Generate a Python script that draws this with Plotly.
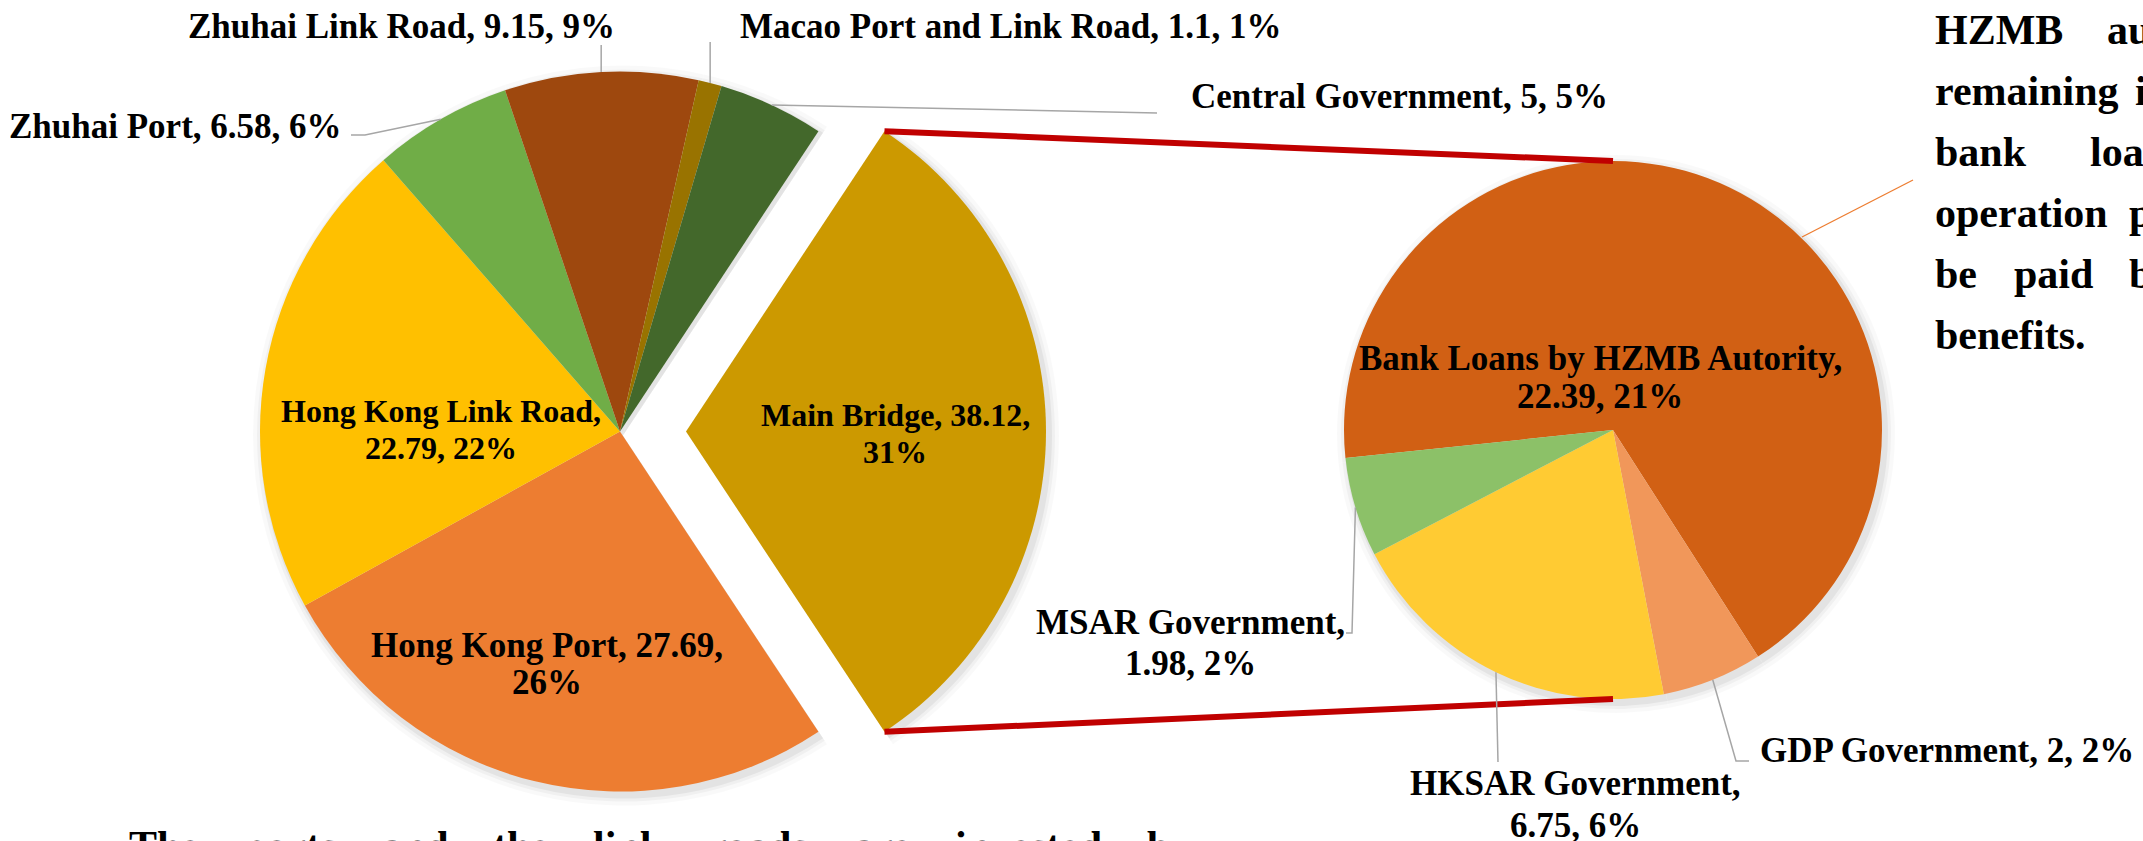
import math
import plotly.graph_objects as go

W, H = 2143, 841

# ---------------- data (billion RMB) ----------------
primary_labels = ["Main Bridge", "Hong Kong Port", "Hong Kong Link Road", "Zhuhai Port",
                  "Zhuhai Link Road", "Macao Port and Link Road", "Central Government"]
# primary slices other than Main Bridge (Main Bridge slice = sum of the secondary pie)
primary_other_values = [27.69, 22.79, 6.58, 9.15, 1.1, 5]
main_bridge_label_value = 38.12

secondary_labels = ["Bank Loans by HZMB Autority", "GDP Government", "HKSAR Government", "MSAR Government"]
secondary_values = [22.39, 2, 6.75, 1.98]

primary_colors = ["#CC9900", "#ED7D31", "#FFC000", "#70AD47", "#9E480E", "#997300", "#43682B"]
secondary_colors = ["#D16014", "#F1975A", "#FFCB33", "#8CC168"]

note_lines = [
    [("HZMB", 1933), ("au", 2105)],
    [("remaining", 1933), ("i", 2133)],
    [("bank", 1933), ("loa", 2088)],
    [("operation", 1933), ("p", 2127)],
    [("be", 1933), ("paid", 2012), ("b", 2127)],
    [("benefits.", 1933)],
]
bottom_words = ["The", "ports", "and", "the", "link", "roads", "are", "invested", "b"]

# ---------------- geometry (pixels) ----------------
L_CX, L_CY, L_R = 620, 431.5, 360
EXPLODE = 66
R_CX, R_CY, R_R = 1613, 430, 269
SEC_ROTATION = 264.0

FONT = "Liberation Serif, Times New Roman, serif"
LABEL_SIZE = 35
NOTE_SIZE = 42
TRANSP = "rgba(0,0,0,0)"

# Times-Bold advance widths (per 1000 em) for justifying the cropped sentence
TB = {"T": 667, "h": 556, "e": 444, "p": 556, "o": 500, "r": 444, "t": 333, "s": 389,
      "a": 500, "n": 556, "d": 556, "l": 278, "i": 278, "k": 556, "v": 500, "b": 556}


def px(x):
    return x / W


def py(y):
    return 1 - y / H


def dom(cx, cy, r):
    return dict(x=[(cx - r) / W, (cx + r) / W], y=[(H - cy - r) / H, (H - cy + r) / H])


primary_values = [round(sum(secondary_values), 2)] + primary_other_values
total = sum(primary_values)
main_angle = primary_values[0] / total * 360
PRI_ROTATION = 90 - main_angle / 2
sec_total = sum(secondary_values)


def mid_angles(values, tot, rot):
    out, cur = [], rot
    for v in values:
        a = v / tot * 360
        out.append(cur + a / 2)
        cur += a
    return out


def edge_pt(cx, cy, r, ang):
    t = math.radians(ang)
    return (cx + r * math.sin(t), cy - r * math.cos(t))


fig = go.Figure()

common = dict(sort=False, direction="clockwise", textinfo="none", hoverinfo="skip",
              showlegend=False)

# soft shadows
for k, a in [(10, 0.025), (6, 0.035), (3, 0.05)]:
    sh = "rgba(0,0,0,%s)" % a
    fig.add_trace(go.Pie(labels=primary_labels, values=primary_values, rotation=PRI_ROTATION,
                         marker=dict(colors=[TRANSP] + [sh] * 6, line=dict(width=0)),
                         domain=dom(L_CX + 3, L_CY + 4, L_R + k), **common))
    fig.add_trace(go.Pie(labels=primary_labels, values=primary_values, rotation=PRI_ROTATION,
                         marker=dict(colors=[sh] + [TRANSP] * 6, line=dict(width=0)),
                         domain=dom(L_CX + EXPLODE + 3, L_CY + 4, L_R + k), **common))
    fig.add_trace(go.Pie(labels=secondary_labels, values=secondary_values, rotation=SEC_ROTATION,
                         marker=dict(colors=[sh] * 4, line=dict(width=0)),
                         domain=dom(R_CX + 3, R_CY + 4, R_R + k), **common))

# primary pie (all but the exploded Main Bridge slice)
fig.add_trace(go.Pie(labels=primary_labels, values=primary_values, rotation=PRI_ROTATION,
                     marker=dict(colors=[TRANSP] + primary_colors[1:], line=dict(width=0)),
                     domain=dom(L_CX, L_CY, L_R), **common))
# exploded Main Bridge slice
fig.add_trace(go.Pie(labels=primary_labels, values=primary_values, rotation=PRI_ROTATION,
                     marker=dict(colors=[primary_colors[0]] + [TRANSP] * 6, line=dict(width=0)),
                     domain=dom(L_CX + EXPLODE, L_CY, L_R), **common))
# secondary pie
fig.add_trace(go.Pie(labels=secondary_labels, values=secondary_values, rotation=SEC_ROTATION,
                     marker=dict(colors=secondary_colors, line=dict(width=0)),
                     domain=dom(R_CX, R_CY, R_R), **common))

shapes = []
annotations = []

# connector lines between the pies
top_tip = edge_pt(L_CX + EXPLODE, L_CY, L_R, PRI_ROTATION)
bot_tip = edge_pt(L_CX + EXPLODE, L_CY, L_R, PRI_ROTATION + main_angle)
for (x0, y0), (x1, y1) in [(top_tip, (R_CX, R_CY - R_R)), (bot_tip, (R_CX, R_CY + R_R))]:
    shapes.append(dict(type="line", xref="paper", yref="paper", x0=px(x0), y0=py(y0),
                       x1=px(x1), y1=py(y1), line=dict(color="#C00000", width=6)))

# label layout
label_layout = {
    "Main Bridge": dict(x=895, y=[415, 452], anchor="center", brk="value", size=32),
    "Hong Kong Port": dict(x=547, y=[645, 682], anchor="center", brk="value"),
    "Hong Kong Link Road": dict(x=441, y=[411, 448], anchor="center", brk="name", size=32),
    "Zhuhai Port": dict(x=344, y=[126], anchor="right", leader=[(365, 135), (351, 135)]),
    "Zhuhai Link Road": dict(x=401, y=[27], anchor="center", leader=[(None, 45)]),
    "Macao Port and Link Road": dict(x=738, y=[27], anchor="left", leader=[(None, 42)]),
    "Central Government": dict(x=1189, y=[97], anchor="left", leader=[(1157, 113)]),
    "Bank Loans by HZMB Autority": dict(x=1600, y=[358, 396], anchor="center", brk="name"),
    "GDP Government": dict(x=1758, y=[750], anchor="left", leader=[(1736, 761), (1749, 761)]),
    "HKSAR Government": dict(x=1575, y=[783, 825], anchor="center", brk="name", leader=[(1498, 762)]),
    "MSAR Government": dict(x=1190, y=[622, 663], anchor="center", brk="name",
                            leader=[(1352, 633), (1346, 633)]),
}

pri_mids = mid_angles(primary_values, total, PRI_ROTATION)
sec_mids = mid_angles(secondary_values, sec_total, SEC_ROTATION)

entries = []
for i, name in enumerate(primary_labels):
    shown = main_bridge_label_value if i == 0 else primary_values[i]
    cx = L_CX + (EXPLODE if i == 0 else 0)
    entries.append((name, shown, round(primary_values[i] / total * 100),
                    edge_pt(cx, L_CY, L_R, pri_mids[i])))
for i, name in enumerate(secondary_labels):
    entries.append((name, secondary_values[i], round(secondary_values[i] / total * 100),
                    edge_pt(R_CX, R_CY, R_R, sec_mids[i])))

for name, val, pct, start in entries:
    lay = label_layout[name]
    brk = lay.get("brk")
    if brk == "name":
        lines = [f"{name},", f"{val:g}, {pct}%"]
    elif brk == "value":
        lines = [f"{name}, {val:g},", f"{pct}%"]
    else:
        lines = [f"{name}, {val:g}, {pct}%"]
    for ln, yy in zip(lines, lay["y"]):
        annotations.append(dict(xref="paper", yref="paper", x=px(lay["x"]), y=py(yy),
                                xanchor=lay["anchor"], yanchor="middle", showarrow=False,
                                text=f"<b>{ln}</b>",
                                font=dict(family=FONT, size=lay.get("size", LABEL_SIZE),
                                          color="black")))
    if "leader" in lay:
        pts = [start] + [(start[0] if x is None else x, y) for x, y in lay["leader"]]
        path = "M " + " L ".join(f"{px(x):.5f},{py(y):.5f}" for x, y in pts)
        shapes.append(dict(type="path", xref="paper", yref="paper", path=path,
                           line=dict(color="#A6A6A6", width=1.5)))

# callout line toward the note text
shapes.append(dict(type="line", xref="paper", yref="paper", x0=px(1802), y0=py(237),
                   x1=px(1913), y1=py(180), line=dict(color="#ED7D31", width=1.3)))

# note text on the right (cropped paragraph)
for li, words in enumerate(note_lines):
    yy = 30 + 61 * li
    for w, xx in words:
        annotations.append(dict(xref="paper", yref="paper", x=px(xx), y=py(yy),
                                xanchor="left", yanchor="middle", showarrow=False,
                                text=f"<b>{w}</b>",
                                font=dict(family=FONT, size=NOTE_SIZE, color="black")))

# bottom (cropped) sentence, justified
start_x, end_x = 127, 1168
word_w = [sum(TB.get(c, 500) for c in w) / 1000 * NOTE_SIZE for w in bottom_words]
gap = (end_x - start_x - sum(word_w)) / (len(bottom_words) - 1)
cur = start_x
for w, ww in zip(bottom_words, word_w):
    annotations.append(dict(xref="paper", yref="paper", x=px(cur), y=py(846),
                            xanchor="left", yanchor="middle", showarrow=False,
                            text=f"<b>{w}</b>",
                            font=dict(family=FONT, size=NOTE_SIZE, color="black")))
    cur += ww + gap

fig.update_layout(width=W, height=H, margin=dict(l=0, r=0, t=0, b=0),
                  paper_bgcolor="white", plot_bgcolor="white",
                  shapes=shapes, annotations=annotations, showlegend=False)

fig.write_html("out.html", config={"displayModeBar": False},
               post_script="document.body.style.margin='0';document.body.style.overflow='hidden';")
